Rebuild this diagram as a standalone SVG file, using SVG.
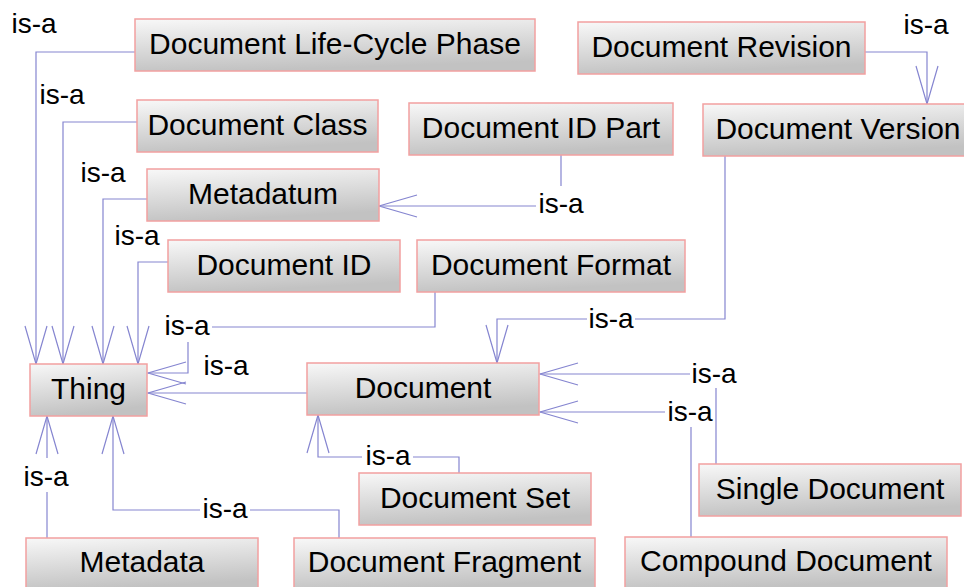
<svg xmlns="http://www.w3.org/2000/svg" width="964" height="587" viewBox="0 0 964 587">
<defs>
<linearGradient id="g" x1="0" y1="0" x2="0.25" y2="1">
<stop offset="0" stop-color="#f8f8f8"/>
<stop offset="1" stop-color="#c2c2c2"/>
</linearGradient>
<marker id="ah" viewBox="-40 -14 42 28" markerWidth="42" markerHeight="28" refX="0" refY="0" orient="auto" markerUnits="userSpaceOnUse">
<path d="M-38,-11 L0,0 L-38,11" fill="none" stroke="#8585d0" stroke-width="1.2"/>
</marker>
<style>
.n rect{fill:url(#g);stroke:#f2a0a0;stroke-width:1.5}
.n text{font-family:"Liberation Sans",Arial,sans-serif;font-size:30px;fill:#000;text-anchor:middle}
.c path{fill:none;stroke:#8585d0;stroke-width:1.2;marker-end:url(#ah)}
.l rect{fill:#fff}
.l text{font-family:"Liberation Sans",Arial,sans-serif;font-size:28px;fill:#000;text-anchor:middle}
</style>
</defs>
<rect width="964" height="587" fill="#fff"/>
<g id="connectors" class="c">
<path d="M135,52 H36 V364"/>
<path d="M137,122 H63 V364"/>
<path d="M147,199 H103 V364"/>
<path d="M168,262 H138 V364"/>
<path d="M435,292 V327 H188 V373 H148"/>
<path d="M307,393 H148"/>
<path d="M47,538 V416"/>
<path d="M339,538 V510 H113 V416"/>
<path d="M561,155 V206 H379"/>
<path d="M865,52 H927 V104"/>
<path d="M725,156 V319 H497 V363"/>
<path d="M716,464 V374 H540"/>
<path d="M691,537 V412 H540"/>
<path d="M459,473 V457 H318 V415"/>
</g>
<g id="labels" class="l">
<text x="34" y="33">is-a</text>
<text x="62" y="104">is-a</text>
<text x="103" y="182">is-a</text>
<text x="137" y="245">is-a</text>
<rect x="162" y="312" width="50" height="30"/><text x="187" y="335">is-a</text>
<text x="226" y="375">is-a</text>
<rect x="22" y="458" width="50" height="34"/><text x="46" y="486">is-a</text>
<rect x="200" y="496" width="50" height="24"/><text x="225" y="518">is-a</text>
<text x="926" y="34">is-a</text>
<rect x="587" y="307" width="48" height="24"/><text x="611" y="328">is-a</text>
<rect x="690" y="360" width="48" height="28"/><text x="714" y="383">is-a</text>
<rect x="665" y="397" width="50" height="30"/><text x="690" y="421">is-a</text>
<rect x="362" y="441" width="51" height="28"/><text x="388" y="465">is-a</text>
<rect x="536" y="186" width="50" height="30"/><text x="561" y="213">is-a</text>
</g>
<g id="n-lifecycle" class="n"><rect x="135" y="19" width="400" height="52"/><text x="335" y="54">Document Life-Cycle Phase</text></g>
<g id="n-class" class="n"><rect x="137" y="100" width="241" height="52"/><text x="257.5" y="135">Document Class</text></g>
<g id="n-metadatum" class="n"><rect x="147" y="169" width="232" height="52"/><text x="263" y="204">Metadatum</text></g>
<g id="n-docid" class="n"><rect x="168" y="240" width="232" height="52"/><text x="284" y="275">Document ID</text></g>
<g id="n-docformat" class="n"><rect x="417" y="240" width="268" height="52"/><text x="551" y="275">Document Format</text></g>
<g id="n-docidpart" class="n"><rect x="409" y="103" width="264" height="52"/><text x="541" y="138">Document ID Part</text></g>
<g id="n-docrevision" class="n"><rect x="578" y="22" width="287" height="52"/><text x="721.5" y="57">Document Revision</text></g>
<g id="n-docversion" class="n"><rect x="703" y="104" width="265" height="52"/><text x="838" y="139">Document Version</text></g>
<g id="n-thing" class="n"><rect x="30" y="364" width="117" height="52"/><text x="88.5" y="399">Thing</text></g>
<g id="n-document" class="n"><rect x="307" y="363" width="232" height="52"/><text x="423" y="398">Document</text></g>
<g id="n-docset" class="n"><rect x="359" y="473" width="232" height="52"/><text x="475" y="508">Document Set</text></g>
<g id="n-docfragment" class="n"><rect x="294" y="538" width="301" height="52"/><text x="444.5" y="572">Document Fragment</text></g>
<g id="n-metadata" class="n"><rect x="26" y="538" width="232" height="52"/><text x="142" y="572">Metadata</text></g>
<g id="n-singledoc" class="n"><rect x="699" y="464" width="262" height="52"/><text x="830" y="499">Single Document</text></g>
<g id="n-compounddoc" class="n"><rect x="625" y="537" width="322" height="52"/><text x="786" y="571">Compound Document</text></g>
</svg>
